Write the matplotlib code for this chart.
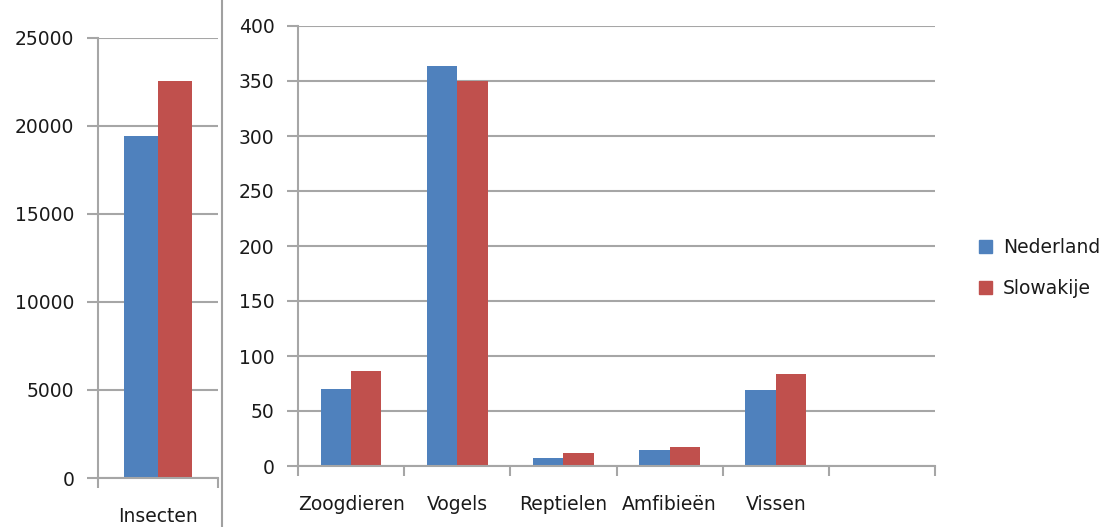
import matplotlib.pyplot as plt
import numpy as np
from matplotlib.lines import Line2D

# data
series = ["Nederland", "Slowakije"]
colors = ["#4F81BD", "#C0504D"]

left_categories = ["Insecten"]
left_nederland = [19430]
left_slowakije = [22570]
left_ticks = [0, 5000, 10000, 15000, 20000, 25000]

right_categories = ["Zoogdieren", "Vogels", "Reptielen", "Amfibieën", "Vissen", ""]
right_nederland = [70, 364, 7, 15, 69, 0]
right_slowakije = [86, 350, 12, 17, 84, 0]
right_ticks = [0, 50, 100, 150, 200, 250, 300, 350, 400]

W, H = 1107, 527
GRID = "#a6a6a6"
TEXT = "#1a1a1a"
FS = 13.5
BAR_W = 1 / 3.5  # excel gap width 150%

plt.rcParams["font.family"] = ["DejaVu Sans"]

fig = plt.figure(figsize=(W / 100, H / 100), dpi=100)


def px_axes(x0, x1, ytop, ybot):
    return fig.add_axes([x0 / W, 1 - ybot / H, (x1 - x0) / W, (ybot - ytop) / H])


def style(ax, ticks, ncat):
    ax.set_ylim(ticks[0], ticks[-1])
    ax.set_yticks(ticks)
    ax.set_xlim(0, ncat)
    ax.set_xticks(np.arange(ncat + 1))
    ax.set_xticklabels([])
    ax.set_xticks(np.arange(ncat) + 0.5, minor=True)
    ax.tick_params(axis="x", which="minor", length=0, pad=21, labelsize=FS, labelcolor=TEXT)
    ax.tick_params(axis="x", which="major", length=7, width=1.5, color=GRID, direction="out")
    ax.tick_params(axis="y", length=8, width=1.5, color=GRID, direction="out", pad=9,
                   labelsize=FS, labelcolor=TEXT)
    ax.grid(axis="y", color=GRID, linewidth=1.5)
    ax.set_axisbelow(True)
    for side in ["top", "right"]:
        ax.spines[side].set_visible(False)
    for side in ["left", "bottom"]:
        ax.spines[side].set_color(GRID)
        ax.spines[side].set_linewidth(1.5)


def draw(ax, cats, a, b):
    x = np.arange(len(cats)) + 0.5
    ax.bar(x - BAR_W / 2, a, BAR_W, color=colors[0], label=series[0])
    ax.bar(x + BAR_W / 2, b, BAR_W, color=colors[1], label=series[1])
    ax.set_xticklabels(cats, minor=True)


# left panel (insects)
axl = px_axes(98, 218, 38, 478)
style(axl, left_ticks, len(left_categories))
draw(axl, left_categories, left_nederland, left_slowakije)

# right panel (vertebrates)
axr = px_axes(298, 935, 26, 466)
style(axr, right_ticks, len(right_categories))
draw(axr, right_categories, right_nederland, right_slowakije)

# separator between the two chart objects
fig.add_artist(Line2D([222 / W, 222 / W], [0, 1], color="#a0a0a0", linewidth=1.5))

handles = [plt.Rectangle((0, 0), 1, 1, color=c) for c in colors]
fig.legend(handles, series, loc="center left", bbox_to_anchor=(962 / W, 1 - 268 / H),
           frameon=False, fontsize=FS, labelcolor=TEXT, handlelength=0.7, handleheight=0.7,
           handletextpad=0.6, labelspacing=1.2)

fig.savefig("out.png", dpi=100)
